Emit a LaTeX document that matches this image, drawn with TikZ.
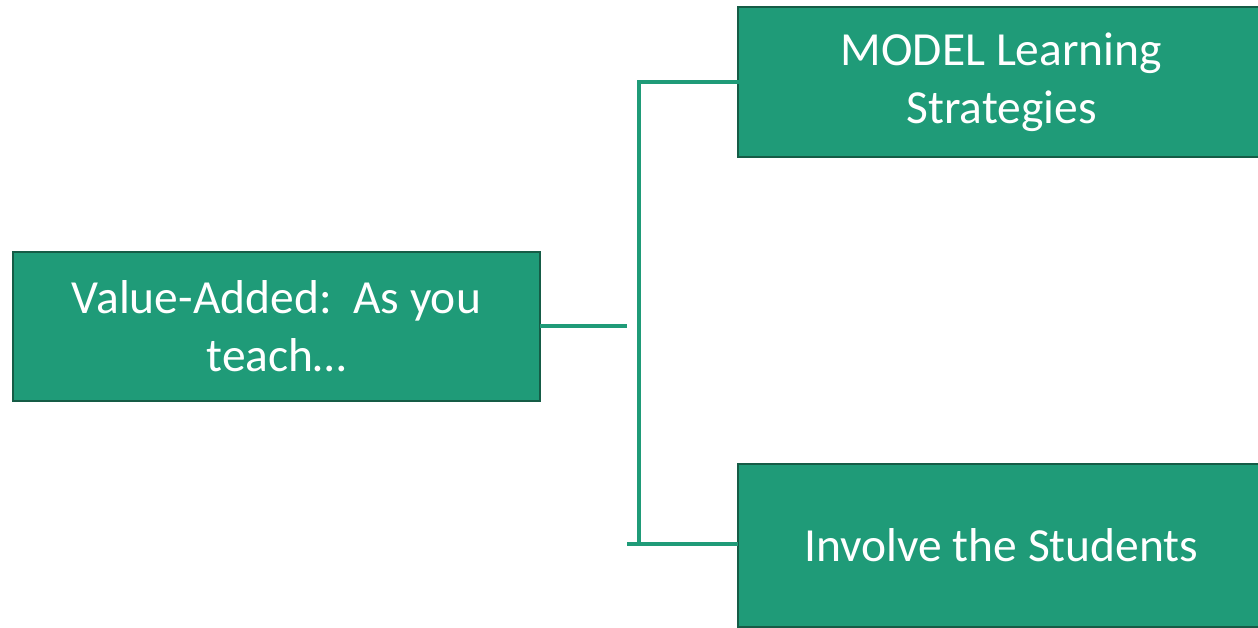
\documentclass[tikz,border=0pt]{standalone}
\usepackage{fontspec}
\setmainfont{Carlito}
\definecolor{boxfill}{HTML}{1F9B78}
\definecolor{boxedge}{HTML}{155C46}
\definecolor{linkgreen}{HTML}{1F9B78}
\begin{document}
\begin{tikzpicture}[x=1pt,y=-1pt,
  box/.style={draw=boxedge, line width=2pt, fill=boxfill, text=white,
    rectangle, anchor=north west, inner sep=0pt, outer sep=0pt,
    align=center, font=\fontsize{47.5}{58}\selectfont},
  link/.style={draw=linkgreen, line width=3.5pt}]
  \useasboundingbox (0,0) rectangle (1258,628);
  \clip (0,0) rectangle (1258,628);
  \node[box, minimum width=527pt, minimum height=149pt] (root) at (13,252)
    {Value-Added:\ \ As you\\teach\ldots};
  \node[box, minimum width=527pt, minimum height=150pt] (model) at (738,7)
    {MODEL Learning\\Strategies};
  \node[box, minimum width=527pt, minimum height=163pt] (involve) at (738,464)
    {Involve the Students};
  % bracket joining the three boxes
  \coordinate (stub) at (627,326);
  \coordinate (top) at (639,82);
  \coordinate (bot) at (639,544);
  \coordinate (botstart) at (627,544);
  \draw[link] (root.east |- stub) -- (stub);
  \draw[link, line cap=rect] (bot) -- (top) -- (top -| model.west);
  \draw[link] (botstart) -- (botstart -| involve.west);
\end{tikzpicture}
\end{document}
